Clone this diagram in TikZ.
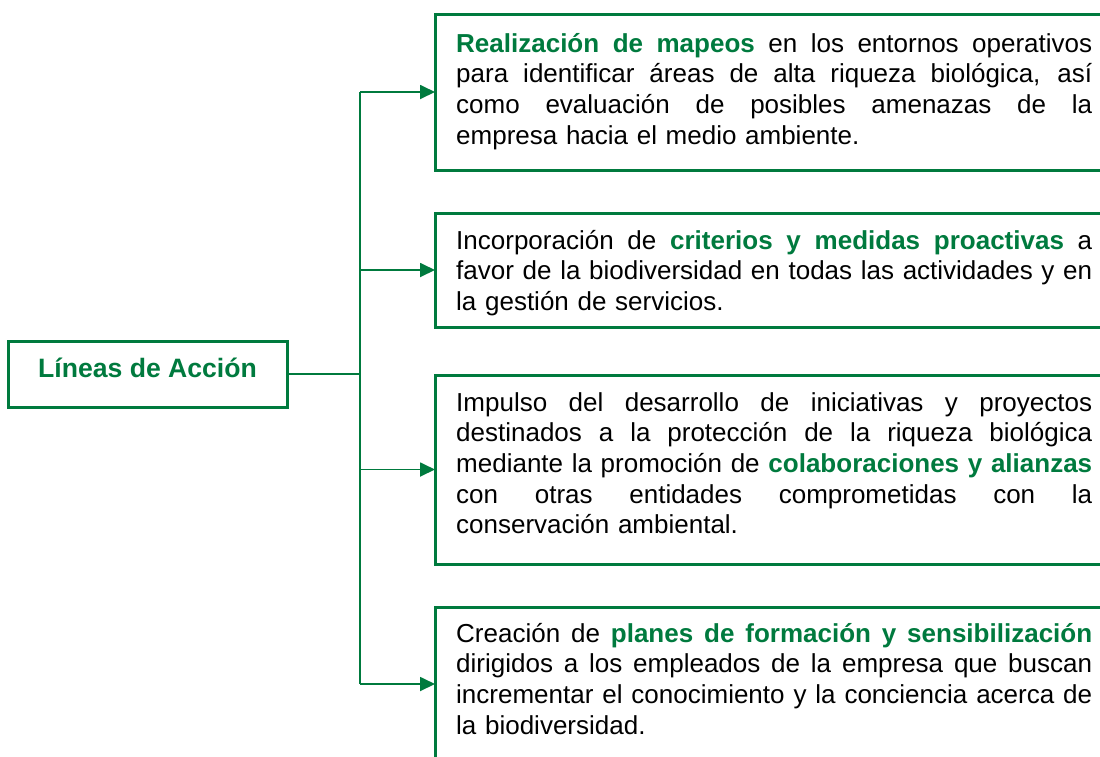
\documentclass[tikz,border=0pt]{standalone}
\usepackage{fontspec}
\setmainfont{Liberation Sans}
\usetikzlibrary{arrows.meta}
\definecolor{grn}{RGB}{0,122,62}
\newcommand{\gb}[1]{\textbf{\color{grn}#1}}
\newcommand{\jl}[1]{\leavevmode\hbox to 636pt{\spaceskip=0.278em plus 1fil\relax #1}}
\begin{document}
\begin{tikzpicture}[x=1pt,y=-1pt,
  box/.style={draw=grn, line width=3pt, anchor=north west, inner sep=0pt, outer sep=0pt, minimum width=700pt},
  conn/.style={draw=grn, line width=1.8pt},
  arr/.style={conn, -{Triangle[length=15pt,width=14pt]}},
  txt/.style={anchor=base west, inner sep=0pt, text width=636pt, align=left,
    font=\fontsize{26}{30.7}\selectfont}]
\clip (0,0) rectangle (1100,756);
\useasboundingbox (0,0) rectangle (1100,756);
% left box
\node[box, minimum width=279pt, minimum height=66pt] (lb) at (8,341) {};
\node[anchor=base, inner sep=0pt, font=\fontsize{26.6}{30}\selectfont\bfseries, text=grn] (lt) at (147.5,377) {Líneas de Acción};
% right boxes
\node[box, minimum height=156pt] (b1) at (435,14) {};
\node[box, minimum height=114pt] (b2) at (435,213) {};
\node[box, minimum height=189pt] (b3) at (435,375) {};
\node[box, minimum height=154pt] (b4) at (435,607) {};
% texts
\node[txt] (t1) at (456,52) {\jl{\gb{Realización de mapeos} en los entornos operativos}\\
\jl{para identificar áreas de alta riqueza biológica, así}\\
\jl{como evaluación de posibles amenazas de la}\\
empresa hacia el medio ambiente.};
\node[txt] (t2) at (456,249) {\jl{Incorporación de \gb{criterios y medidas proactivas} a}\\
\jl{favor de la biodiversidad en todas las actividades y en}\\
la gestión de servicios.};
\node[txt] (t3) at (456,411) {\jl{Impulso del desarrollo de iniciativas y proyectos}\\
\jl{destinados a la protección de la riqueza biológica}\\
\jl{mediante la promoción de \gb{colaboraciones y alianzas}}\\
\jl{con otras entidades comprometidas con la}\\
conservación ambiental.};
\node[txt] (t4) at (456,642) {\jl{Creación de \gb{planes de formación y sensibilización}}\\
\jl{dirigidos a los empleados de la empresa que buscan}\\
\jl{incrementar el conocimiento y la conciencia acerca de}\\
la biodiversidad.};
% connectors
\coordinate (trunk) at (360,0);
\draw[conn] (lb.east) -- (trunk |- lb.east);
\draw[conn] (trunk |- b1.west) -- (trunk |- b4.west);
\draw[arr] (trunk |- b1.west) -- (b1.west);
\draw[arr] (trunk |- b2.west) -- (b2.west);
\draw[arr] (trunk |- b3.west) -- (b3.west);
\draw[arr] (trunk |- b4.west) -- (b4.west);
\end{tikzpicture}
\end{document}
